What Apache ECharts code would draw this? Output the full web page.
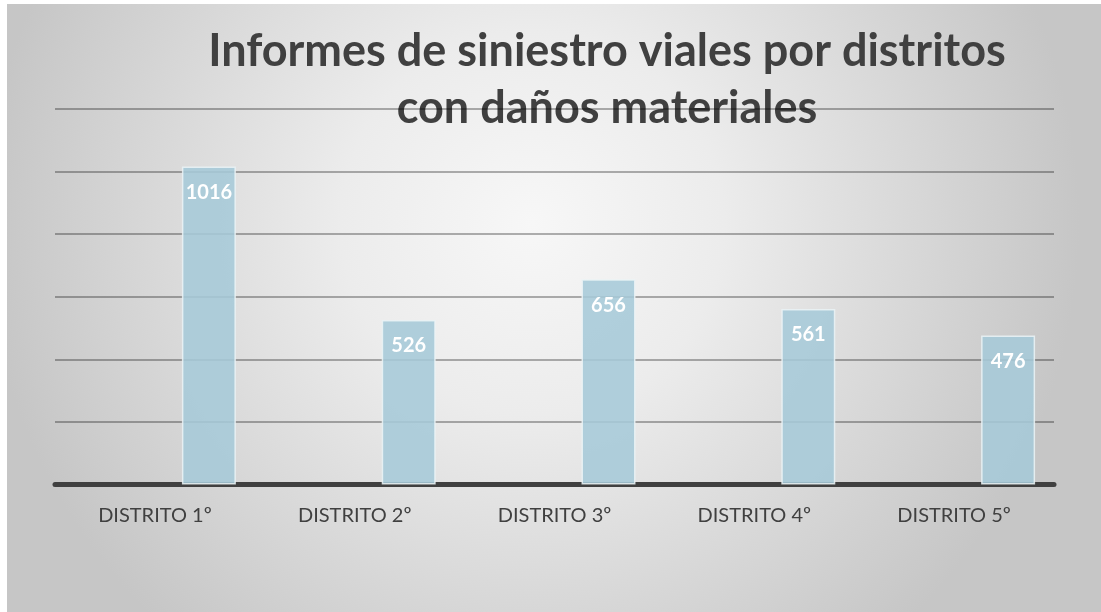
<!DOCTYPE html>
<html>
<head>
<meta charset="utf-8">
<title>Informes de siniestro viales</title>
<script src="https://cdn.jsdelivr.net/npm/echarts@6/dist/echarts.min.js"></script>
<style>
  html, body { margin: 0; padding: 0; background: #ffffff; }
  #chart { position: absolute; left: 7px; top: 4px; width: 1094px; height: 608px; }
</style>
</head>
<body>
<div id="chart"></div>
<script>
// datos del gráfico
var distritos = ['DISTRITO 1º', 'DISTRITO 2º', 'DISTRITO 3º', 'DISTRITO 4º', 'DISTRITO 5º'];
var vacia = [null, null, null, null, null];   // serie vacía (hueco a la izquierda)
var informes = [1016, 526, 656, 561, 476];
var ejeMin = 0, ejeMax = 1200, ejePaso = 200;
var titulo = 'Informes de siniestro viales por distritos\ncon daños materiales';

var chart = echarts.init(document.getElementById('chart'));

var option = {
  backgroundColor: {
    type: 'radial', x: 0.48, y: 0.36, r: 0.9,
    colorStops: [
      { offset: 0, color: '#f7f7f7' },
      { offset: 0.35, color: '#ececec' },
      { offset: 1, color: '#c6c6c6' }
    ]
  },
  // título desplazado a la derecha, como en el original
  graphic: [{
    type: 'text', x: 600, y: 19,
    style: {
      text: titulo, align: 'center', verticalAlign: 'top',
      fontFamily: 'Lato', fontWeight: 'bold', fontSize: 45,
      lineHeight: 57, fill: '#404040'
    }
  }],
  grid: { left: 48, right: 47, top: 105, bottom: 127.5 },
  xAxis: {
    type: 'category',
    data: distritos,
    axisLine: { lineStyle: { color: '#404040', width: 5 } },
    axisTick: { show: false },
    axisLabel: { margin: 21, fontFamily: 'Lato', fontSize: 20, color: '#404040' }
  },
  yAxis: {
    type: 'value',
    min: ejeMin, max: ejeMax, interval: ejePaso,
    axisLabel: { show: false },
    axisLine: { show: false },
    axisTick: { show: false },
    splitLine: { lineStyle: { color: 'rgba(0,0,0,0.3)', width: 2 } }
  },
  series: [
    {
      type: 'bar', data: vacia, barWidth: 54, barGap: '100%'
    },
    {
      type: 'bar', data: informes, barWidth: 54, barGap: '100%', z: 3,
      itemStyle: {
        color: 'rgba(166,202,216,0.88)',
        borderColor: 'rgba(235,243,246,0.85)', borderWidth: 1.5
      },
      label: {
        show: true, position: 'insideTop', distance: 16,
        color: '#ffffff', fontFamily: 'Lato', fontWeight: 'bold', fontSize: 20
      }
    }
  ]
};

chart.setOption(option);
</script>
</body>
</html>
